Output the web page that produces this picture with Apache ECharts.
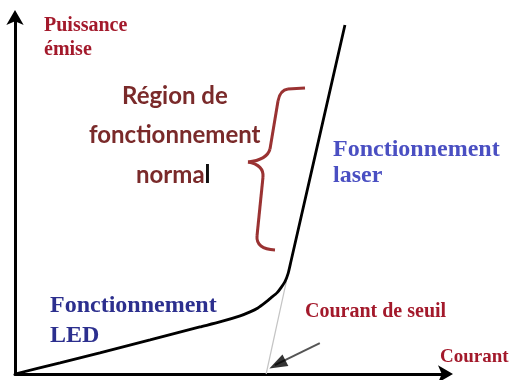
<!DOCTYPE html>
<html>
<head>
<meta charset="utf-8">
<script src="https://cdn.jsdelivr.net/npm/echarts@6/dist/echarts.min.js"></script>
<style>
  html, body { margin: 0; padding: 0; background: #fff; }
  #chart { width: 510px; height: 380px; }
</style>
</head>
<body>
<div id="chart"></div>
<script>
// Optical power vs drive current of a laser diode (arbitrary units)
const currentPts = [0, 10.4, 19.6, 31.2, 42.7, 47.3, 52.0, 54.3, 56.1, 57.7, 59.1, 60.5, 61.4, 62.4, 63.1, 63.7, 76.2];
const powerPts   = [0, 3.1, 5.9, 9.5, 13.1, 14.5, 16.2, 17.3, 18.4, 19.8, 21.2, 22.6, 24.0, 25.9, 28.1, 31.2, 97.2];

// Extension of the laser slope down to the current axis (threshold)
const thresholdCurrent = [58.0, 63.0];
const thresholdPower = [0, 27.6];

// Pointer towards the threshold current
const pointerCurrent = [70.4, 60.0];
const pointerPower = [8.6, 2.5];
const pointerHead = [60.6, 2.7];

const axisTitleY = ['Puissance', 'émise'];
const axisTitleX = 'Courant';
const thresholdLabel = 'Courant de seuil';
const ledLabel = ['Fonctionnement', 'LED'];
const laserLabel = ['Fonctionnement', 'laser'];
const normalLabel = ['Région de', 'fonctionnement', 'normal'];

const zip = (a, b) => a.map((v, i) => [v, b[i]]);

const chart = echarts.init(document.getElementById('chart'), null, { renderer: 'canvas' });

const red = '#a3192b';
const brown = '#7a2a2a';
const braceColor = '#9a3232';
const serif = '"Liberation Serif", "Times New Roman", serif';
const sans = 'Lato, "Open Sans", sans-serif';

// curly brace built from straight and quadratic pieces
const braceStyle = { fill: 'none', stroke: braceColor, lineWidth: 3 };
const seg = (x1, y1, x2, y2) => ({ type: 'line', shape: { x1, y1, x2, y2 }, style: braceStyle });
const curve = (x1, y1, cpx1, cpy1, x2, y2) => ({ type: 'bezierCurve', shape: { x1, y1, cpx1, cpy1, x2, y2 }, style: braceStyle });
const brace = [
  seg(305, 88, 288, 89),
  curve(288, 89, 280, 90, 278, 101),
  seg(278, 101, 270, 149),
  curve(270, 149, 267, 160, 248, 162),
  curve(248, 162, 264, 165, 263, 177),
  seg(263, 177, 257, 236),
  curve(257, 236, 256, 249, 275, 250)
];

const axisLine = {
  show: true, onZero: false, symbol: ['none', 'arrow'], symbolSize: [13, 15], symbolOffset: [0, 5],
  lineStyle: { color: '#000', width: 3 }
};

chart.setOption({
  animation: false,
  backgroundColor: '#ffffff',
  grid: { left: 15, right: 62, top: 15, bottom: 6 },
  xAxis: {
    type: 'value', min: 0, max: 100, axisLine,
    axisTick: { show: false }, axisLabel: { show: false }, splitLine: { show: false }
  },
  yAxis: {
    type: 'value', min: 0, max: 100, axisLine,
    axisTick: { show: false }, axisLabel: { show: false }, splitLine: { show: false }
  },
  series: [
    {
      type: 'line', data: zip(thresholdCurrent, thresholdPower), symbol: 'none',
      lineStyle: { color: '#c4c4c4', width: 1.2 }, z: 1
    },
    {
      type: 'line', data: zip(currentPts, powerPts), symbol: 'none', smooth: 0.2,
      lineStyle: { color: '#000', width: 2.8 }, z: 3
    },
    {
      type: 'line', data: zip(pointerCurrent, pointerPower), symbol: 'none',
      lineStyle: { color: '#555', width: 2 }, z: 2
    },
    {
      type: 'scatter', data: [pointerHead], symbol: 'triangle', symbolSize: [13, 18],
      symbolRotate: 117, itemStyle: { color: '#000' }, z: 4
    }
  ],
  graphic: [
    { type: 'text', left: 44, top: 14, style: { text: axisTitleY.join('\n'), font: 'bold 20px ' + serif, fill: red, lineHeight: 24 } },
    { type: 'text', left: 440, top: 348, style: { text: axisTitleX, font: 'bold 19px ' + serif, fill: red } },
    { type: 'text', left: 305, top: 302, style: { text: thresholdLabel, font: 'bold 20px ' + serif, fill: red } },
    { type: 'text', left: 50, top: 291, style: { text: ledLabel.join('\n'), font: 'bold 24px ' + serif, fill: '#2c2f8e', lineHeight: 30 } },
    { type: 'text', left: 333, top: 137, style: { text: laserLabel.join('\n'), font: 'bold 24px ' + serif, fill: '#4a4fc2', lineHeight: 26 } },
    { type: 'text', left: 122, top: 84, style: { text: normalLabel[0], font: 'bold 24px ' + sans, fill: brown } },
    { type: 'text', left: 89, top: 123, style: { text: normalLabel[1], font: 'bold 24px ' + sans, fill: brown } },
    { type: 'text', left: 136, top: 163, style: {
        text: '{a|' + normalLabel[2].slice(0, -1) + '}{b|' + normalLabel[2].slice(-1) + '}',
        rich: { a: { font: 'bold 24px ' + sans, fill: brown }, b: { font: 'bold 24px ' + sans, fill: '#111' } }
    } }
  ].concat(brace)
});
</script>
</body>
</html>
